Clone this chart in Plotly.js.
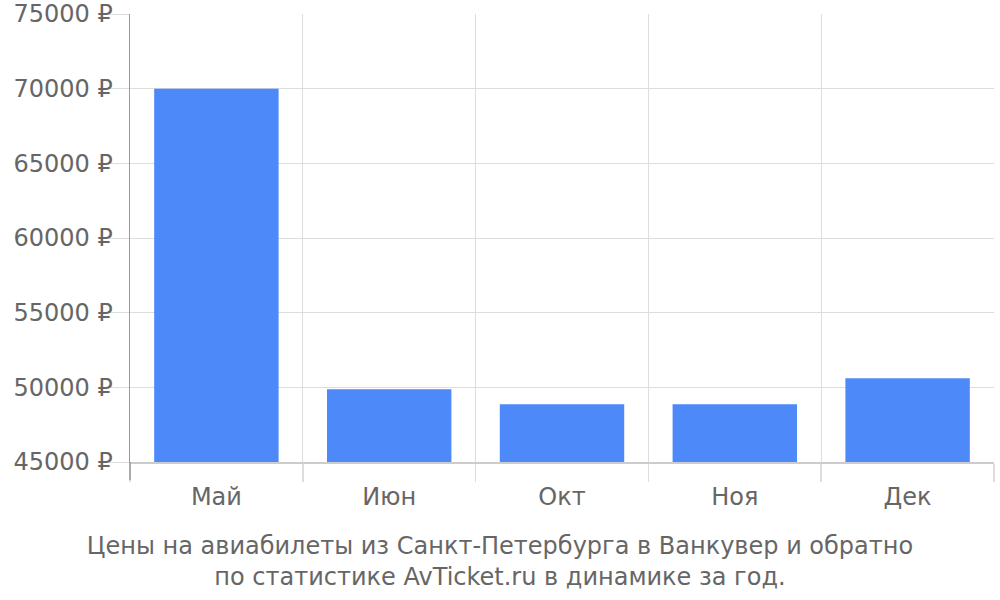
<!DOCTYPE html>
<html>
<head>
<meta charset="utf-8">
<script src="https://cdn.plot.ly/plotly-3.0.1.min.js"></script>
<style>html,body{margin:0;padding:0;background:#fff}#chart{width:1000px;height:600px}</style>
</head>
<body>
<div id="chart"></div>
<script>
const months = ["Май", "Июн", "Окт", "Ноя", "Дек"];
const prices = [70000, 49870, 48860, 48860, 50610];
const yTickSuffix = " ₽";
const titleText = "Цены на авиабилеты из Санкт-Петербурга в Ванкувер и обратно<br>по статистике AvTicket.ru в динамике за год.";

const font = "DejaVu Sans, sans-serif";
const data = [{
  type: "bar",
  x: months,
  y: prices,
  marker: {color: "#4e89f9", line: {width: 0}},
  hoverinfo: "x+y"
}];
const layout = {
  width: 1000, height: 600,
  margin: {l: 130, r: 6, t: 14, b: 138},
  paper_bgcolor: "#fff", plot_bgcolor: "#fff",
  bargap: 0.28,
  showlegend: false,
  font: {family: font, size: 24, color: "#666"},
  title: {
    text: titleText,
    x: 0.5, xref: "container", xanchor: "center",
    y: 0.077, yref: "container", yanchor: "middle",
    font: {family: font, size: 24, color: "#666"}
  },
  xaxis: {
    type: "category",
    tickson: "boundaries",
    ticks: "outside", ticklen: 18, tickcolor: "#ddd", tickwidth: 1.5,
    ticklabelstandoff: 12,
    showgrid: true, gridcolor: "#ddd", gridwidth: 1,
    showline: true, linecolor: "#ccc", linewidth: 2,
    tickfont: {family: font, size: 24, color: "#666"},
    fixedrange: true
  },
  yaxis: {
    range: [45000, 75000],
    dtick: 5000, tick0: 45000,
    tickformat: "d", ticksuffix: yTickSuffix,
    ticks: "outside", ticklen: 20, tickcolor: "#ddd",
    ticklabelstandoff: -9,
    showgrid: true, gridcolor: "#ddd", gridwidth: 1,
    showline: true, linecolor: "#999", linewidth: 1.5,
    zeroline: false,
    tickfont: {family: font, size: 24, color: "#666"},
    fixedrange: true
  },
  shapes: [{
    type: "line", xref: "paper", yref: "paper",
    x0: 0, x1: 0, y0: 0, y1: -0.04,
    line: {color: "#999", width: 1.5}
  }]
};
Plotly.newPlot("chart", data, layout, {displayModeBar: false, staticPlot: true});
</script>
</body>
</html>
